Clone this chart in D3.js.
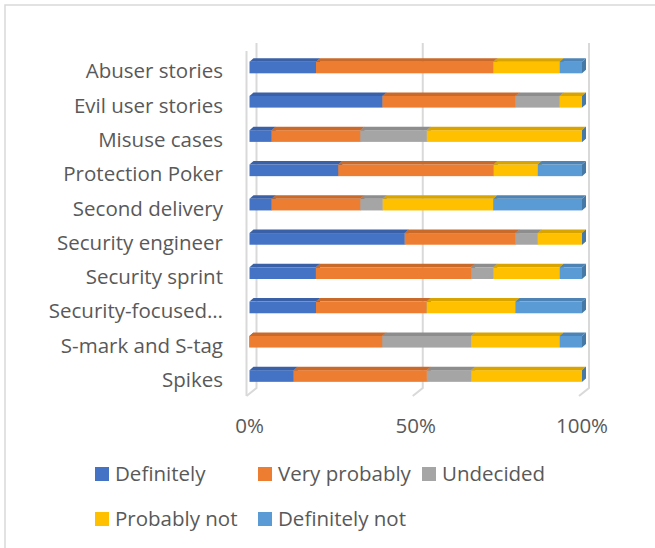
<!DOCTYPE html>
<html>
<head>
<meta charset="utf-8">
<script src="https://cdn.jsdelivr.net/npm/d3@7"></script>
<style>
  body { margin: 0; background: #fff; }
  text { font-family: "Open Sans", sans-serif; fill: #595959; }
</style>
</head>
<body>
<div id="chart"></div>
<script>
const categories = [
    "Abuser stories", "Evil user stories", "Misuse cases", "Protection Poker",
    "Second delivery", "Security engineer", "Security sprint", "Security-focused…",
    "S-mark and S-tag", "Spikes"
];
const seriesNames = ["Definitely", "Very probably", "Undecided", "Probably not", "Definitely not"];
const definitely    = [20, 40, 6.7, 26.7, 6.7, 46.7, 20, 20, 0, 13.3];
const veryProbably  = [53.3, 40, 26.7, 46.7, 26.7, 33.3, 46.7, 33.3, 40, 40];
const undecided     = [0, 13.3, 20, 0, 6.7, 6.7, 6.7, 0, 26.7, 13.3];
const probablyNot   = [20, 6.7, 46.7, 13.3, 33.3, 13.3, 20, 26.7, 26.7, 33.3];
const definitelyNot = [6.7, 0, 0, 13.3, 26.7, 0, 6.7, 20, 6.7, 0];
const tickValues = [0, 0.5, 1];

const colors = ["#4472C4", "#ED7D31", "#A5A5A5", "#FFC000", "#5B9BD5"];

const svgWidth = 655;
const svgHeight = 548;

const rows = categories.map((c, i) => ({
    name: c,
    "Definitely": definitely[i],
    "Very probably": veryProbably[i],
    "Undecided": undecided[i],
    "Probably not": probablyNot[i],
    "Definitely not": definitelyNot[i]
}));

const stacked = d3.stack()
    .keys(seriesNames)
    .offset(d3.stackOffsetExpand)(rows);

const svg = d3.select("#chart")
    .append("svg")
    .attr("width", svgWidth)
    .attr("height", svgHeight);

// chart area border (runs off right and bottom)
svg.append("rect")
    .attr("x", 5)
    .attr("y", 5)
    .attr("width", 700)
    .attr("height", 600)
    .attr("fill", "none")
    .attr("stroke", "#d9d9d9")
    .attr("stroke-width", 1.5);

const xScale = d3.scaleLinear().domain([0, 1]).range([249.5, 582]);
const yScale = d3.scaleBand()
    .domain(categories)
    .range([50.35, 393.15])
    .paddingInner(0.66)
    .paddingOuter(0.33);

// 3D walls
const back = { dx: 7, top: 43, bottom: 388 };
const front = { dx: -3, top: 51, bottom: 396 };

svg.append("line")
    .attr("x1", xScale(0) + front.dx).attr("x2", xScale(0) + front.dx)
    .attr("y1", front.top).attr("y2", front.bottom)
    .attr("stroke", "#d9d9d9").attr("stroke-width", 2);

svg.append("g")
    .selectAll("path")
    .data(tickValues)
    .join("path")
    .attr("d", d => `M${xScale(d) + back.dx},${back.top}V${back.bottom}L${xScale(d) + front.dx},${front.bottom}`)
    .attr("fill", "none")
    .attr("stroke", "#d9d9d9")
    .attr("stroke-width", 2);

// bars
const depthX = 4, depthY = 3.5;
const bh = yScale.bandwidth();

const rowsG = svg.append("g")
    .selectAll("g")
    .data(categories)
    .join("g");

rowsG.each(function(cat, i) {
    const g = d3.select(this);
    const y = yScale(cat);
    stacked.forEach((layer, k) => {
        const x0 = xScale(layer[i][0]);
        const x1 = xScale(layer[i][1]);
        const c = d3.color(colors[k]);
        g.append("rect")
            .attr("x", x0).attr("y", y)
            .attr("width", x1 - x0).attr("height", bh)
            .attr("fill", colors[k]);
        if (x1 > x0) {
            g.append("path")
                .attr("d", `M${x0},${y}L${x1},${y}L${x1 + depthX},${y - depthY}L${x0 + depthX},${y - depthY}Z`)
                .attr("fill", c.darker(0.45));
        }
        g.append("path")
            .attr("d", `M${x1},${y}L${x1 + depthX},${y - depthY}L${x1 + depthX},${y + bh - depthY}L${x1},${y + bh}Z`)
            .attr("fill", c.darker(0.7));
    });
});

// category labels
svg.append("g")
    .selectAll("text")
    .data(categories)
    .join("text")
    .attr("x", 223)
    .attr("y", d => yScale(d) + bh / 2 + 11)
    .attr("text-anchor", "end")
    .style("font-size", "20.5px")
    .text(d => d);

// x tick labels
svg.append("g")
    .selectAll("text")
    .data(tickValues)
    .join("text")
    .attr("x", d => xScale(d))
    .attr("y", 433)
    .attr("text-anchor", "middle")
    .style("font-size", "20.5px")
    .text(d3.format(".0%"));

// legend
const legendPos = [
    { x: 95, y: 467 }, { x: 258, y: 467 }, { x: 422, y: 467 },
    { x: 95, y: 512 }, { x: 258, y: 512 }
];
const legend = svg.append("g")
    .selectAll("g")
    .data(seriesNames)
    .join("g")
    .attr("transform", (d, i) => `translate(${legendPos[i].x},${legendPos[i].y})`);

legend.append("rect")
    .attr("width", 14)
    .attr("height", 14)
    .attr("fill", (d, i) => colors[i]);

legend.append("text")
    .attr("x", 20)
    .attr("y", 13.5)
    .style("font-size", "20.5px")
    .text(d => d);
</script>
</body>
</html>
